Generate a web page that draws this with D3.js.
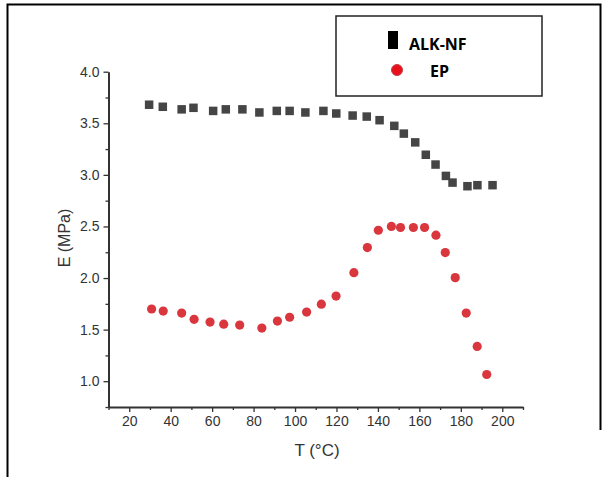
<!DOCTYPE html>
<html>
<head>
<style>
body { margin: 0; background: #fff; }
svg { display: block; }
text { font-family: 'Liberation Sans', Arial, sans-serif; }
</style>
</head>
<body>
<svg width="608" height="477"></svg>
<script src="https://cdnjs.cloudflare.com/ajax/libs/d3/7.8.5/d3.min.js"></script>
<script>

// ALK-NF modulus (squares)
const alkT = [29.6, 36.2, 45.3, 51.0, 60.5, 66.6, 74.6, 82.8, 91.2, 97.4, 105.0, 113.7, 119.9,
    127.8, 134.6, 140.8, 147.9, 152.5, 158.0, 163.1, 167.8, 172.8, 176.0, 183.2, 188.0, 195.3];
const alkE = [3.68, 3.66, 3.635, 3.65, 3.62, 3.635, 3.635, 3.605, 3.62, 3.62, 3.605, 3.62, 3.595,
    3.575, 3.565, 3.53, 3.475, 3.40, 3.315, 3.195, 3.10, 2.99, 2.925, 2.89, 2.90, 2.90];

// EP modulus (circles)
const epT = [30.8, 36.4, 45.3, 51.3, 59.0, 65.6, 73.3, 84.0, 91.5, 97.4, 105.6, 112.7, 119.8,
    128.4, 134.9, 140.2, 146.5, 150.9, 157.1, 162.5, 168.0, 172.5, 177.3, 182.6, 187.9, 192.5];
const epE = [1.70, 1.68, 1.66, 1.60, 1.573, 1.553, 1.544, 1.515, 1.583, 1.62, 1.67, 1.747, 1.825,
    2.052, 2.295, 2.463, 2.50, 2.49, 2.49, 2.49, 2.415, 2.247, 2.004, 1.66, 1.337, 1.065];

const xTicks = [20, 40, 60, 80, 100, 120, 140, 160, 180, 200];
const xMinor = [10, 30, 50, 70, 90, 110, 130, 150, 170, 190, 210];
const yTicks = [1.0, 1.5, 2.0, 2.5, 3.0, 3.5, 4.0];
const yMinor = [0.75, 1.25, 1.75, 2.25, 2.75, 3.25, 3.75];

const legendNames = ['ALK-NF', 'EP'];

const svg = d3.select('svg');

// frame around the figure
svg.append('path')
    .attr('d', 'M7.5,477 V4.5 H600.5 V430')
    .attr('fill', 'none')
    .attr('stroke', '#000')
    .attr('stroke-width', 2);

const x = d3.scaleLinear().domain([10, 210]).range([108.5, 523]);
const y = d3.scaleLinear().domain([0.75, 4.0]).range([407, 71.7]);

const axisColor = '#333';

// minor ticks first, then major axis on top
svg.append('g')
    .attr('transform', 'translate(0,407)')
    .call(d3.axisBottom(x).tickValues(xMinor).tickSize(3).tickSizeOuter(0).tickFormat(''))
    .call(g => g.select('.domain').remove());

svg.append('g')
    .attr('transform', 'translate(0,407)')
    .call(d3.axisBottom(x).tickValues(xTicks).tickSize(5).tickSizeOuter(0).tickPadding(4));

svg.append('g')
    .attr('transform', 'translate(108.5,0)')
    .call(d3.axisLeft(y).tickValues(yMinor).tickSize(3).tickSizeOuter(0).tickFormat(''))
    .call(g => g.select('.domain').remove());

svg.append('g')
    .attr('transform', 'translate(108.5,0)')
    .call(d3.axisLeft(y).tickValues(yTicks).tickSize(5).tickSizeOuter(0).tickPadding(4)
        .tickFormat(d3.format('.1f')));

svg.selectAll('.domain').attr('stroke', axisColor).attr('stroke-width', 2);
svg.selectAll('.tick line').attr('stroke', axisColor).attr('stroke-width', 1.3);
svg.selectAll('.tick text')
    .attr('fill', axisColor)
    .style('font-size', '14px')
    .style('font-family', "'Liberation Sans', Arial, sans-serif");

// axis titles
svg.append('text')
    .attr('transform', 'translate(70,238) rotate(-90)')
    .attr('text-anchor', 'middle')
    .attr('fill', axisColor)
    .style('font-size', '16px')
    .text('E (MPa)');

svg.append('text')
    .attr('x', 317)
    .attr('y', 456)
    .attr('text-anchor', 'middle')
    .attr('fill', axisColor)
    .style('font-size', '17px')
    .text('T (°C)');

// data
const sq = 8.5;
svg.append('g')
    .selectAll('rect')
    .data(alkT.map((t, i) => [t, alkE[i]]))
    .join('rect')
    .attr('x', d => x(d[0]) - sq / 2)
    .attr('y', d => y(d[1]) - sq / 2)
    .attr('width', sq)
    .attr('height', sq)
    .attr('fill', '#454545');

svg.append('g')
    .selectAll('circle')
    .data(epT.map((t, i) => [t, epE[i]]))
    .join('circle')
    .attr('cx', d => x(d[0]))
    .attr('cy', d => y(d[1]))
    .attr('r', 4.6)
    .attr('fill', '#d9363e');

// legend
const legend = svg.append('g');
legend.append('rect')
    .attr('x', 336).attr('y', 16)
    .attr('width', 206).attr('height', 80)
    .attr('fill', '#fff')
    .attr('stroke', '#222')
    .attr('stroke-width', 1.5);

legend.append('rect')
    .attr('x', 388).attr('y', 31)
    .attr('width', 10).attr('height', 18)
    .attr('fill', '#000');

legend.append('circle')
    .attr('cx', 397).attr('cy', 70).attr('r', 5.5)
    .attr('fill', '#e8101a')
    .attr('stroke', '#c04048')
    .attr('stroke-width', 1);

legend.selectAll('text.lab')
    .data(legendNames)
    .join('text')
    .attr('class', 'lab')
    .attr('x', (d, i) => i === 0 ? 409 : 430)
    .attr('y', (d, i) => i === 0 ? 50 : 77)
    .attr('fill', '#000')
    .style('font-family', "'Open Sans', sans-serif")
    .style('font-weight', 700)
    .style('font-size', '16px')
    .text(d => d);

</script>
</body>
</html>
